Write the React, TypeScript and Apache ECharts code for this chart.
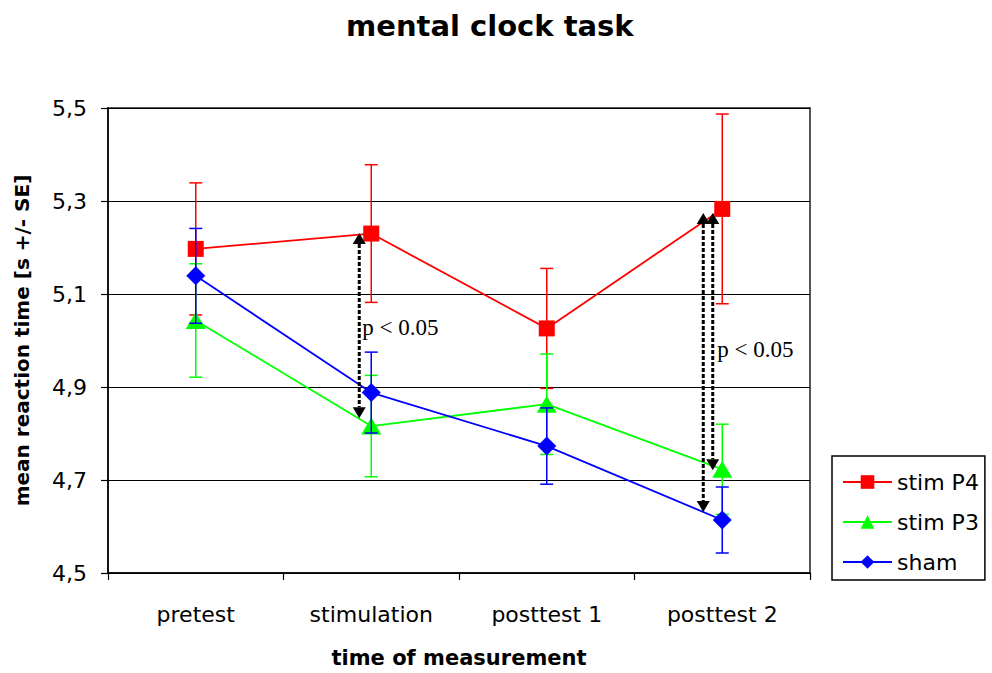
import React, { useEffect, useRef } from 'react';
import * as echarts from 'echarts';

// ---------- data ----------
const categories = ['pretest', 'stimulation', 'posttest 1', 'posttest 2'];
const seriesNames = ['stim P4', 'stim P3', 'sham'];
const stimP4Mean = [5.197, 5.23, 5.026, 5.283];
const stimP4SE = [0.142, 0.148, 0.129, 0.204];
const stimP3Mean = [5.043, 4.816, 4.863, 4.723];
const stimP3SE = [0.122, 0.109, 0.108, 0.097];
const shamMean = [5.139, 4.888, 4.773, 4.614];
const shamSE = [0.102, 0.087, 0.082, 0.071];
const yMin = 4.5;
const yMax = 5.5;
const yStep = 0.2;
// significance arrows: [category index, from value, to value]
const sigArrows = [
  [1, 5.231, 4.833],
  [3, 5.274, 4.631],
  [3, 5.274, 4.721],
];
// significance labels: [category index, value]
const sigLabels = [
  [1, 5.027],
  [3, 4.98],
];
const sigText = 'p < 0.05';

// ---------- styles ----------
const SANS = 'DejaVu Sans';
const SERIF = 'Liberation Serif';
const colors = ['#ff0000', '#00ff00', '#0000ff'];
const symbols = ['rect', 'triangle', 'diamond'];
const symbolSizes: any[] = [16, [20, 17], [19, 19]];
const arrowOffsets = [-12, -19, -9.5];
const labelOffsets = [-9, -5];

function errorBarSeries(name: string, means: number[], ses: number[], color: string, z: number) {
  return {
    type: 'custom',
    name: name + ' SE',
    z,
    silent: true,
    data: means.map((m, i) => [i, m - ses[i], m + ses[i]]),
    encode: { x: 0, y: [1, 2] },
    renderItem: (params: any, api: any) => {
      const i = api.value(0);
      const lo = api.coord([i, api.value(1)]);
      const hi = api.coord([i, api.value(2)]);
      const h = 6.5;
      const style = { stroke: color, lineWidth: 1.5, fill: null };
      return {
        type: 'group',
        children: [
          { type: 'line', shape: { x1: hi[0], y1: hi[1], x2: lo[0], y2: lo[1] }, style },
          { type: 'line', shape: { x1: hi[0] - h, y1: hi[1], x2: hi[0] + h, y2: hi[1] }, style },
          { type: 'line', shape: { x1: lo[0] - h, y1: lo[1], x2: lo[0] + h, y2: lo[1] }, style },
        ],
      };
    },
  };
}

function lineSeries(idx: number, means: number[], z: number) {
  return {
    type: 'line',
    name: seriesNames[idx],
    data: means,
    z,
    symbol: symbols[idx],
    symbolSize: symbolSizes[idx],
    showSymbol: true,
    showAllSymbol: true,
    lineStyle: { color: colors[idx], width: 1.8 },
    itemStyle: { color: colors[idx] },
    emphasis: { disabled: true },
  };
}

export default function App() {
  const ref = useRef<HTMLDivElement>(null);
  useEffect(() => {
    if (!ref.current) return;
    const chart = echarts.init(ref.current, undefined, { renderer: 'svg' });
    const option: any = {
      animation: false,
      backgroundColor: '#fff',
      title: {
        text: 'mental clock task',
        left: 346,
        top: 11,
        padding: 0,
        textStyle: { fontSize: 29, fontWeight: 'bold', fontFamily: SANS, color: '#000' },
      },
      legend: {
        data: seriesNames,
        orient: 'vertical',
        left: 832,
        top: 456,
        itemWidth: 49,
        itemHeight: 17,
        itemGap: 18,
        padding: [15, 6, 7, 10],
        borderColor: '#000',
        borderWidth: 1.5,
        backgroundColor: '#fff',
        textStyle: { fontSize: 22, fontFamily: SANS, color: '#000' },
      },
      grid: {
        left: 108,
        right: 182,
        top: 108,
        bottom: 100,
        show: true,
        borderColor: '#555',
        borderWidth: 2,
      },
      xAxis: {
        type: 'category',
        data: categories,
        boundaryGap: true,
        axisLine: { lineStyle: { color: '#000', width: 1.5 } },
        axisTick: { show: true, length: 7, lineStyle: { color: '#000', width: 1.2 } },
        axisLabel: { interval: 0, fontSize: 22, fontFamily: SANS, color: '#000', margin: 30 },
        name: 'time of measurement',
        nameLocation: 'middle',
        nameGap: 74,
        nameTextStyle: { fontSize: 21, fontWeight: 'bold', fontFamily: SANS, color: '#000' },
      },
      yAxis: {
        type: 'value',
        min: yMin,
        max: yMax,
        interval: yStep,
        axisLine: { show: true, lineStyle: { color: '#000', width: 1.5 } },
        axisTick: { show: true, length: 7, lineStyle: { color: '#000', width: 1.2 } },
        axisLabel: {
          formatter: (v: number) => v.toFixed(1).replace('.', ','),
          fontSize: 22,
          fontFamily: SANS,
          color: '#000',
          margin: 21,
        },
        splitLine: { show: true, lineStyle: { color: '#000', width: 1 } },
        name: 'mean reaction time [s +/- SE]',
        nameLocation: 'middle',
        nameGap: 76,
        nameTextStyle: { fontSize: 20, fontWeight: 'bold', fontFamily: SANS, color: '#000' },
      },
      series: [
        errorBarSeries(seriesNames[0], stimP4Mean, stimP4SE, colors[0], 2),
        lineSeries(0, stimP4Mean, 3),
        errorBarSeries(seriesNames[1], stimP3Mean, stimP3SE, colors[1], 4),
        lineSeries(1, stimP3Mean, 5),
        errorBarSeries(seriesNames[2], shamMean, shamSE, colors[2], 6),
        lineSeries(2, shamMean, 7),
        {
          type: 'custom',
          name: 'arrows',
          z: 8,
          silent: true,
          data: sigArrows,
          encode: { x: 0, y: [1, 2] },
          renderItem: (params: any, api: any) => {
            const i = api.value(0);
            const top = api.coord([i, api.value(1)]);
            const bot = api.coord([i, api.value(2)]);
            const x = top[0] + arrowOffsets[params.dataIndex];
            const hw = 6.5;
            const hh = 11;
            return {
              type: 'group',
              children: [
                {
                  type: 'line',
                  shape: { x1: x, y1: top[1] + hh, x2: x, y2: bot[1] - hh },
                  style: { stroke: '#000', lineWidth: 3, lineDash: [4, 2] },
                },
                {
                  type: 'polygon',
                  shape: { points: [[x, top[1]], [x - hw, top[1] + hh], [x + hw, top[1] + hh]] },
                  style: { fill: '#000' },
                },
                {
                  type: 'polygon',
                  shape: { points: [[x, bot[1]], [x - hw, bot[1] - hh], [x + hw, bot[1] - hh]] },
                  style: { fill: '#000' },
                },
              ],
            };
          },
        },
        {
          type: 'custom',
          name: 'labels',
          z: 9,
          silent: true,
          data: sigLabels,
          encode: { x: 0, y: 1 },
          renderItem: (params: any, api: any) => {
            const p = api.coord([api.value(0), api.value(1)]);
            return {
              type: 'text',
              x: p[0] + labelOffsets[params.dataIndex],
              y: p[1],
              style: {
                text: sigText,
                fontSize: 23,
                fontFamily: SERIF,
                fill: '#000',
                align: 'left',
                verticalAlign: 'middle',
              },
            };
          },
        },
      ],
    };
    chart.setOption(option);
    return () => chart.dispose();
  }, []);
  return (
    <div
      ref={ref}
      style={{ position: 'absolute', left: 0, top: 0, width: 992, height: 673, background: '#fff' }}
    />
  );
}
